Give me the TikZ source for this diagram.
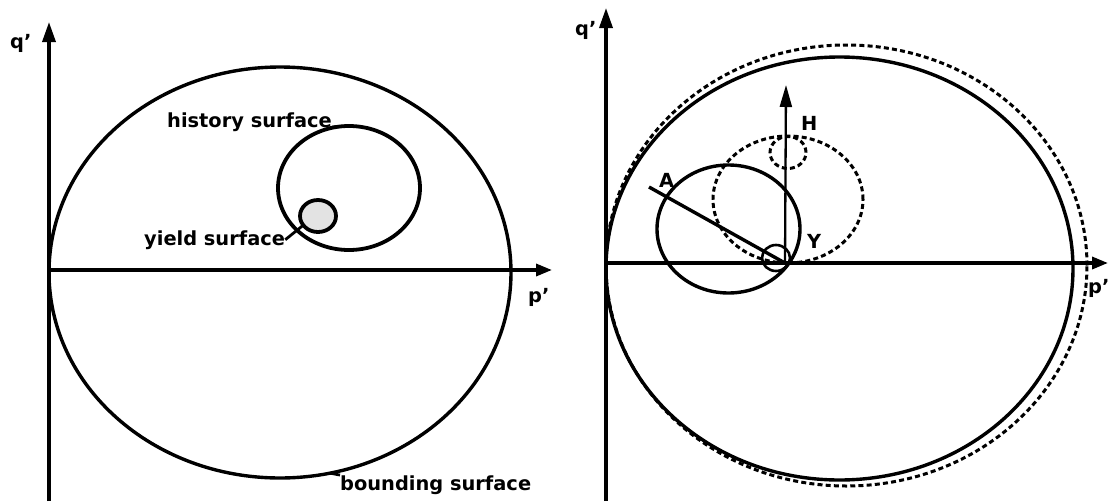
\documentclass[tikz,border=0pt]{standalone}
\usepackage{fontspec}
\setmainfont{DejaVu Sans}[BoldFont={DejaVu Sans Bold}]
\usetikzlibrary{shapes.geometric,arrows.meta}
\begin{document}
\begin{tikzpicture}[x=1pt,y=-1pt,
  font=\fontsize{19.4}{22}\selectfont\bfseries,
  lbl/.style={inner sep=0pt, anchor=base west},
  surf/.style={draw, ellipse, inner sep=0pt, outer sep=0pt, line width=3.4pt},
  dsurf/.style={draw, ellipse, inner sep=0pt, outer sep=0pt, line width=3pt, dash pattern=on 5pt off 3.2pt},
  qaxis/.style={line width=3.4pt, -{Triangle[length=20pt,width=13pt]}},
  paxis/.style={line width=3.4pt, -{Triangle[length=16pt,width=12pt]}},
  lead/.style={line width=2.8pt}
]
\useasboundingbox (0,0) rectangle (1109,501);

% ---------- left panel ----------
\node[surf, minimum width=462pt, minimum height=411pt] (B) at (280,272.5) {};
\node[surf, line width=3.8pt, minimum width=142pt, minimum height=124pt] (HS) at (349,188) {};
\node[surf, line width=3.8pt, fill=gray!22, minimum width=36pt, minimum height=32pt] (YS) at (318,216) {};

\coordinate (qo) at (49,501);
\coordinate (qt) at (49,22);
\coordinate (po) at (49,270);
\coordinate (pt) at (552,270);
\draw[qaxis] (qo) -- (qt);
\draw[paxis] (po) -- (pt);

\node[lbl] (ql) at (10,48) {q'};
\node[lbl] (pl) at (528,302) {p'};
\node[lbl] (hst) at (167,127) {history surface};
\node[lbl] (yst) at (144,245) {yield surface};
\node[lbl] (bst) at (340,490) {bounding surface};

\draw[lead] (hst.base east) -- (HS.north);
\draw[lead] (yst.east) -- (YS.-148);
\draw[lead] (B.-76) -- (bst.north west);

% ---------- right panel ----------
\node[surf, minimum width=467pt, minimum height=423pt] (RB) at (839.5,268.5) {};
\node[dsurf, minimum width=481pt, minimum height=441pt] (RBd) at (846.5,265.5) {};
\node[surf, minimum width=143pt, minimum height=128pt] (RH) at (728.5,229) {};
\node[dsurf, minimum width=150pt, minimum height=127pt] (RHd) at (788,199.5) {};
\node[dsurf, minimum width=36pt, minimum height=32pt] (RYd) at (788,152.5) {};
\node[surf, line width=2.6pt, minimum width=28pt, minimum height=26pt] (RY) at (776,258) {};

\coordinate (rqo) at (606,501);
\coordinate (rqt) at (606,8);
\coordinate (rpo) at (606,263);
\coordinate (rpt) at (1108,263);
\draw[qaxis] (rqo) -- (rqt);
\draw[paxis] (rpo) -- (rpt);

\coordinate (Ypt) at (785,263);
\coordinate (Apt) at (649,187);
\coordinate (Htip) at (786,85);
\draw[line width=3.4pt] (Apt) -- (Ypt);
\draw[line width=2.3pt, -{Triangle[length=22pt,width=12pt]}] (Ypt) -- (Htip);

\node[lbl] (rql) at (575,35) {q'};
\node[lbl] (rpl) at (1088,293) {p'};
\node[lbl] (Al) at (659,187) {A};
\node[lbl] (Hl) at (801,130) {H};
\node[lbl] (Yl) at (807,248) {Y};
\end{tikzpicture}
\end{document}
